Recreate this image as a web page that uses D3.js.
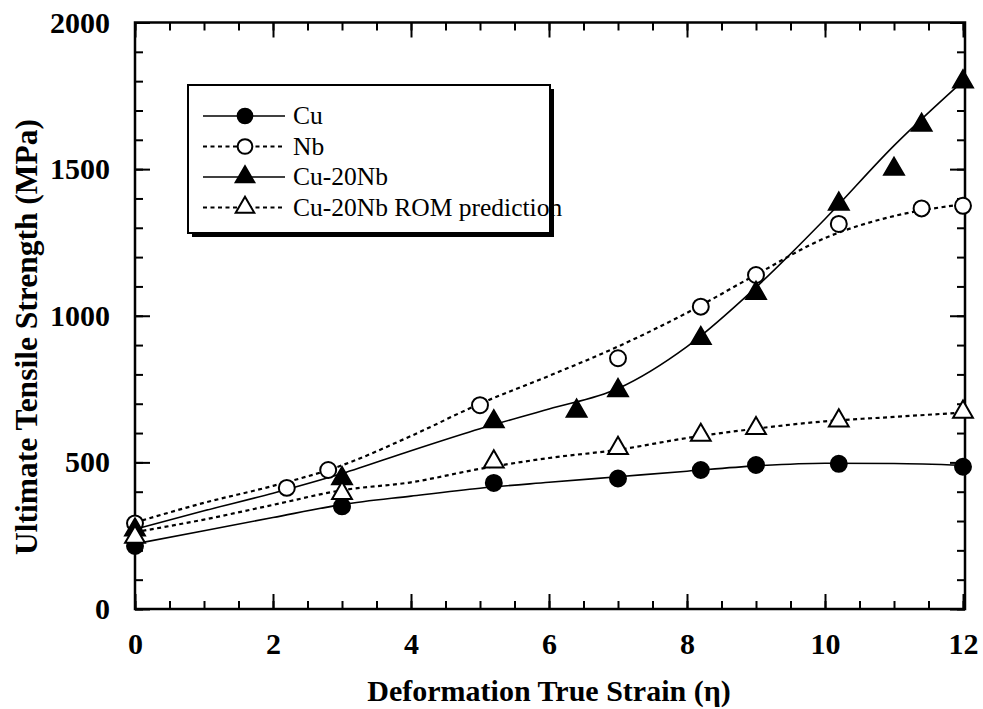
<!DOCTYPE html>
<meta charset="utf-8">
<script src="https://d3js.org/d3.v7.min.js"></script>
<style>
  body { margin: 0; background: #fff; }
  text { font-family: "Liberation Serif", "Times New Roman", serif; }
</style>
<svg id="chart" width="983" height="709"></svg>
<script>

  // data
  var cuX = [0, 3, 5.2, 7, 8.2, 9, 10.2, 12];
  var cuY = [215, 350, 430, 445, 474, 491, 495, 485];
  var nbX = [0, 2.2, 2.8, 5, 7, 8.2, 9, 10.2, 11.4, 12];
  var nbY = [292, 413, 474, 695, 855, 1031, 1139, 1313, 1366, 1375];
  var cuNbX = [0, 3, 5.2, 6.4, 7, 8.2, 9, 10.2, 11, 11.4, 12];
  var cuNbY = [270, 445, 639, 675, 745, 923, 1077, 1381, 1500, 1650, 1798];
  var romX = [0, 3, 5.2, 7, 8.2, 9, 10.2, 12];
  var romY = [245, 395, 502, 548, 593, 616, 642, 672];

  // fitted curves, sampled at whole strains
  var fitX = [0, 1, 2, 3, 4, 5, 6, 7, 8, 9, 10, 11, 12];
  var cuFit = [222, 267, 312, 356, 385, 412, 432, 451, 470, 488, 497, 496, 490];
  var nbFit = [295, 362, 420, 490, 590, 700, 795, 895, 1010, 1140, 1265, 1340, 1380];
  var cuNbFit = [272, 335, 395, 462, 540, 615, 682, 752, 895, 1097, 1330, 1580, 1800];
  var romFit = [262, 305, 355, 405, 432, 478, 515, 543, 583, 615, 640, 655, 670];

  var seriesNames = ["Cu", "Nb", "Cu-20Nb", "Cu-20Nb ROM prediction"];
  var xTicks = [0, 2, 4, 6, 8, 10, 12];
  var yTicks = [0, 500, 1000, 1500, 2000];

  var svg = d3.select("#chart");
  var mLeft = 135, mRight = 963, mTop = 22.5, mBottom = 609;

  var x = d3.scaleLinear().domain([0, 12]).range([mLeft, mRight]);
  var y = d3.scaleLinear().domain([0, 2000]).range([mBottom, mTop]);

  var series = [
    { name: seriesNames[0], xs: cuX, ys: cuY, fit: cuFit, dash: null, symbol: d3.symbolCircle, fill: "#000" },
    { name: seriesNames[1], xs: nbX, ys: nbY, fit: nbFit, dash: "4,3.5", symbol: d3.symbolCircle, fill: "#fff" },
    { name: seriesNames[2], xs: cuNbX, ys: cuNbY, fit: cuNbFit, dash: null, symbol: d3.symbolTriangle, fill: "#000" },
    { name: seriesNames[3], xs: romX, ys: romY, fit: romFit, dash: "4,3.5", symbol: d3.symbolTriangle, fill: "#fff" }
  ];

  // ticks on all four sides, pointing in
  var minorX = d3.range(0, 12.01, 0.5);
  var minorY = d3.range(0, 2001, 100);

  function addAxis(axis, tx, ty) {
    var g = svg.append("g")
            .attr("transform", "translate(" + tx + "," + ty + ")")
            .call(axis);
    g.select(".domain").remove();
    g.selectAll(".tick line").attr("stroke", "#000").attr("stroke-width", 2);
    return g;
  }

  addAxis(d3.axisBottom(x).tickValues(minorX).tickSize(-8).tickFormat(""), 0, mBottom);
  addAxis(d3.axisTop(x).tickValues(minorX).tickSize(-8).tickFormat(""), 0, mTop);
  addAxis(d3.axisLeft(y).tickValues(minorY).tickSize(-8).tickFormat(""), mLeft, 0);
  addAxis(d3.axisRight(y).tickValues(minorY).tickSize(-8).tickFormat(""), mRight + 2, 0);

  addAxis(d3.axisBottom(x).tickValues(xTicks).tickSize(-15).tickPadding(24).tickFormat(d3.format("d")), 0, mBottom);
  addAxis(d3.axisTop(x).tickValues(xTicks).tickSize(-15).tickFormat(""), 0, mTop);
  addAxis(d3.axisLeft(y).tickValues(yTicks).tickSize(-15).tickPadding(25).tickFormat(d3.format("d")), mLeft, 0);
  addAxis(d3.axisRight(y).tickValues(yTicks).tickSize(-15).tickFormat(""), mRight + 2, 0);

  svg.selectAll(".tick text")
          .attr("font-family", "Liberation Serif, serif")
          .attr("font-size", 30)
          .attr("font-weight", "bold")
          .attr("fill", "#000");

  // frame
  svg.append("rect")
          .attr("x", mLeft).attr("y", mTop)
          .attr("width", mRight + 2 - mLeft).attr("height", mBottom - mTop)
          .attr("fill", "none").attr("stroke", "#000").attr("stroke-width", 2.5);

  // fitted lines
  var line = d3.line()
          .x(function (d) { return x(d[0]); })
          .y(function (d) { return y(d[1]); })
          .curve(d3.curveMonotoneX);

  series.forEach(function (s) {
    svg.append("path")
            .attr("d", line(fitX.map(function (v, i) { return [v, s.fit[i]]; })))
            .attr("fill", "none")
            .attr("stroke", "#000")
            .attr("stroke-width", s.dash ? 2.2 : 1.6)
            .attr("stroke-dasharray", s.dash);
  });

  // markers
  function marker(sym) {
    return d3.symbol().type(sym).size(sym === d3.symbolCircle ? 200 : 170)();
  }

  series.forEach(function (s) {
    svg.append("g")
            .selectAll("path")
            .data(s.xs.map(function (v, i) { return [v, s.ys[i]]; }))
            .enter()
            .append("path")
            .attr("d", marker(s.symbol))
            .attr("transform", function (d) { return "translate(" + x(d[0]) + "," + y(d[1]) + ")"; })
            .attr("fill", s.fill)
            .attr("stroke", "#000")
            .attr("stroke-width", 2);
  });

  // legend
  var lg = svg.append("g");
  lg.append("rect")
          .attr("x", 192).attr("y", 89).attr("width", 362).attr("height", 148)
          .attr("fill", "#000");
  lg.append("rect")
          .attr("x", 188).attr("y", 85).attr("width", 362).attr("height", 148)
          .attr("fill", "#fff");

  series.forEach(function (s, i) {
    var ry = 116 + i * 30.5;
    lg.append("line")
            .attr("x1", 203).attr("x2", 285).attr("y1", ry).attr("y2", ry)
            .attr("stroke", "#000")
            .attr("stroke-width", s.dash ? 2 : 1.6)
            .attr("stroke-dasharray", s.dash);
    lg.append("path")
            .attr("d", d3.symbol().type(s.symbol).size(s.symbol === d3.symbolCircle ? 170 : 150)())
            .attr("transform", "translate(245," + ry + ")")
            .attr("fill", s.fill).attr("stroke", "#000").attr("stroke-width", 2);
    lg.append("text")
            .attr("x", 293).attr("y", ry + 8)
            .attr("font-size", 25.5)
            .text(s.name);
  });

  // border over the text, as in the original
  lg.append("rect")
          .attr("x", 188).attr("y", 85).attr("width", 362).attr("height", 148)
          .attr("fill", "none").attr("stroke", "#000").attr("stroke-width", 2);
  lg.append("rect")
          .attr("x", 550).attr("y", 89).attr("width", 4).attr("height", 148)
          .attr("fill", "#000");

  // axis titles
  svg.append("text")
          .attr("x", (mLeft + mRight) / 2).attr("y", 701)
          .attr("text-anchor", "middle")
          .attr("font-size", 30).attr("font-weight", "bold")
          .text("Deformation True Strain (η)");

  svg.append("text")
          .attr("transform", "translate(37,337) rotate(-90)")
          .attr("text-anchor", "middle")
          .attr("font-size", 31.5).attr("font-weight", "bold")
          .text("Ultimate Tensile Strength (MPa)");

</script>
